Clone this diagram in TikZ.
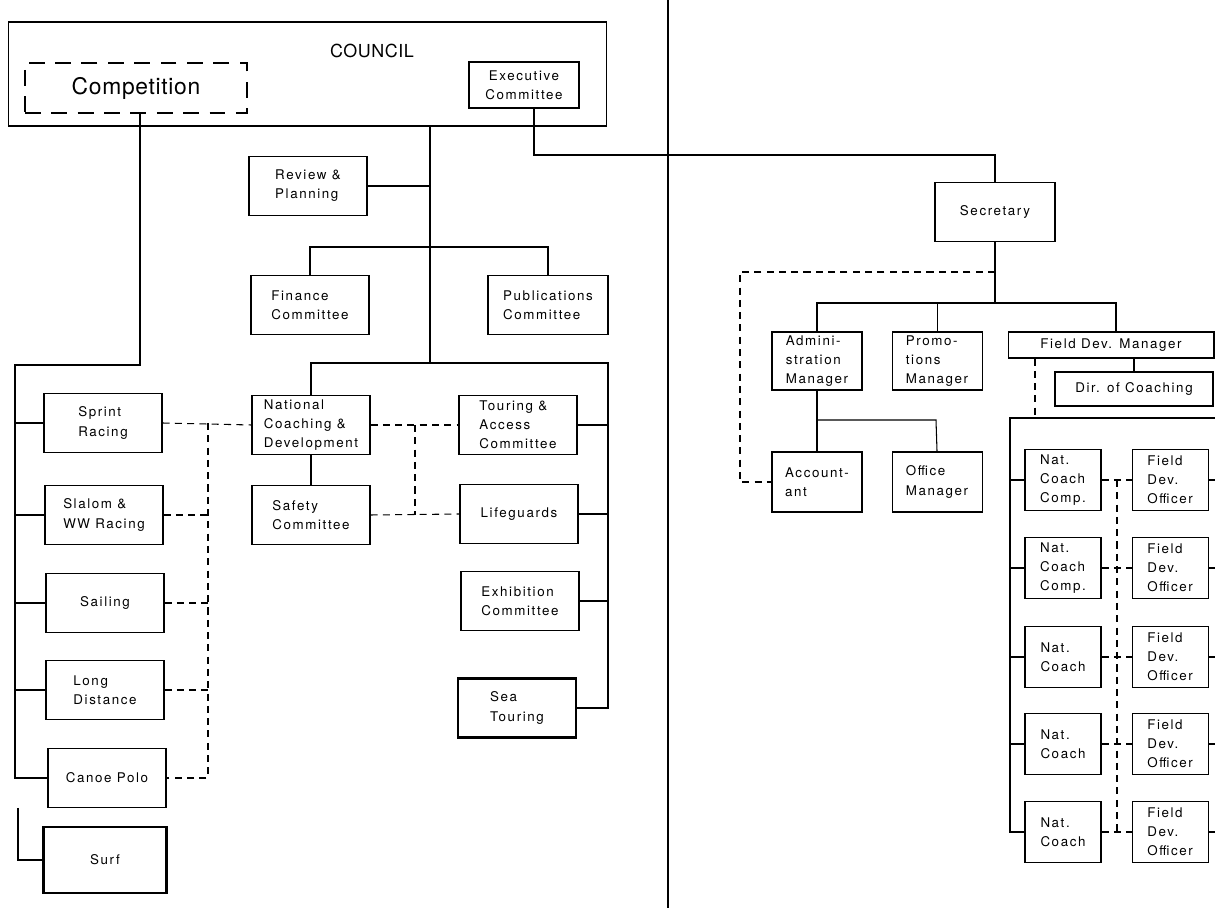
\documentclass[tikz,border=0pt]{standalone}
\usepackage{fontspec}
\newfontfamily\chartfont[LetterSpace=12]{TeX Gyre Heros}
\newfontfamily\titlefont[LetterSpace=3]{TeX Gyre Heros}
\usetikzlibrary{positioning}
\tikzset{
  unit/.style      ={draw,align=left,minimum width=2.36cm,minimum height=1.18cm,inner sep=2pt},
  heavyunit/.style ={unit,line width=1.3pt},
  staff/.style     ={unit,minimum width=1.8cm,minimum height=1.16cm},
  coachbox/.style  ={unit,minimum width=1.52cm,minimum height=1.22cm},
  link/.style      ={dash pattern=on 4pt off 3pt},
  heavy/.style     ={line width=1.3pt},
  divider/.style   ={line width=1.5pt}
}
\begin{document}
\begin{tikzpicture}[x=0.02cm,y=-0.02cm,line width=0.6pt,
    every node/.style={font=\chartfont\fontsize{7.6}{10.9}\selectfont}]
    \useasboundingbox (0,0) rectangle (1215,908);
    % council
    \node[unit,minimum width=11.98cm,minimum height=2.08cm] (council) at (307.5,74) {};
    \node[font=\titlefont\fontsize{10.2}{12}\selectfont] (councillabel) at (372,51) {COUNCIL};
    \node[unit,dash pattern=on 9pt off 6pt,minimum width=4.44cm,minimum height=1cm,
          font=\titlefont\fontsize{13}{15}\selectfont] (competition) at (136,88) {Competition};
    \node[unit,minimum width=2.2cm,minimum height=0.92cm,align=center] (exec) at (524,85) {Executive\\Committee};
    % competition
    \node[unit] (sprint)   at (103,423) {Sprint\\Racing};
    \node[unit] (slalom)   at (104,515) {Slalom \&\\WW Racing};
    \node[unit] (sailing)  at (105,603) {Sailing};
    \node[unit] (longdist) at (105,690) {Long\\Distance};
    \node[unit] (canoe)    at (107,778) {Canoe Polo};
    \node[heavyunit,minimum width=2.46cm,minimum height=1.32cm] (surf) at (105,860) {Surf};
    % committees
    \node[unit] (review)    at (308,186) {Review \&\\Planning};
    \node[unit] (finance)   at (310,305) {Finance\\Committee};
    \node[unit,minimum width=2.4cm] (publications) at (548,305) {Publications\\Committee};
    \node[unit] (natdev)    at (311,425) {National\\Coaching \&\\Development};
    \node[unit] (touring)   at (518,425) {Touring \&\\Access\\Committee};
    \node[unit] (safety)    at (311,515) {Safety\\Committee};
    \node[unit] (lifeguard) at (519,514) {Lifeguards};
    \node[unit] (exhib)     at (520,601) {Exhibition\\Committee};
    \node[heavyunit] (seatour) at (517,708) {Sea\\Touring};
    % staff
    \node[unit,minimum width=2.4cm] (secretary) at (995,212) {Secretary};
    \node[staff] (admin) at (817,361) {Admini-\\stration\\Manager};
    \node[staff,right=0.58cm of admin] (promo) {Promo-\\tions\\Manager};
    \node[staff,minimum height=1.2cm] (accountant) at (817,482) {Account-\\ant};
    \node[staff,minimum height=1.2cm,right=0.58cm of accountant] (office) {Office\\Manager};
    \node[unit,minimum width=4.12cm,minimum height=0.52cm,align=center] (fieldmgr) at (1111,345) {Field Dev. Manager};
    \node[unit,minimum width=3.16cm,minimum height=0.68cm] (dircoach) at (1134,389) {Dir. of Coaching};
    \foreach \i/\y/\t in {1/480/{Nat.\\Coach\\Comp.},2/568/{Nat.\\Coach\\Comp.},3/657/{Nat.\\Coach},
                          4/744/{Nat.\\Coach},5/832/{Nat.\\Coach}}{
      \node[coachbox] (coach\i) at (1063,\y) {\t};
      \node[coachbox,right=0.6cm of coach\i] (officer\i) {Field\\Dev.\\Officer};
    }
    % junctions
    \coordinate (compbend)  at (140,365);
    \coordinate (compfoot)  at (15,778);
    \coordinate (surftop)   at (18,808);
    \coordinate (compdash)  at (208,778);
    \coordinate (spine)     at (430,363);
    \coordinate (finbar)    at (430,247);
    \coordinate (tourbar)   at (608,363);
    \coordinate (tourfoot)  at (608,708);
    \coordinate (safedash)  at (415,515);
    \coordinate (secbar)    at (534,155);
    \coordinate (staffbar)  at (993,303);
    \coordinate (fdmtop)    at (1116,303);
    \coordinate (accdash)   at (740,272);
    \coordinate (officebar) at (936,420);
    \coordinate (fielddash) at (1035,418);
    \coordinate (fieldbar)  at (1010,418);
    \coordinate (fieldedge) at (1215,418);
    \coordinate (coachdash) at (1117,832);
    \coordinate (divtop)    at (668,0);
    \coordinate (divfoot)   at (668,908);
    % connectors
    \draw (competition.south -| compbend) -- (compbend) -| (compfoot) -- (canoe.west);
    \foreach \n in {sprint,slalom,sailing,longdist}
      \draw (\n.west) -- (\n.west -| compfoot);
    \draw[heavy] (surftop) |- (surf.west);
    \draw[link] (sprint.east) -- (natdev.west);
    \draw[link] (sprint.east -| compdash) -- (compdash) -- (canoe.east);
    \foreach \n in {slalom,sailing,longdist}
      \draw[link] (\n.east) -- (\n.east -| compdash);
    \draw (council.south -| spine) -- (spine);
    \draw (review.east) -- (review.east -| spine);
    \draw (finance.north) |- (publications.north |- finbar) -- (publications.north);
    \draw (natdev.north) |- (tourbar) -- (tourfoot);
    \foreach \n in {touring,lifeguard,exhib}
      \draw (\n.east) -- (\n.east -| tourbar);
    \draw[heavy] (seatour.east) -- (tourfoot) -- (tourfoot |- seatour.north);
    \draw (natdev) -- (safety);
    \draw[link] (natdev.east) -- (touring.west);
    \draw[link] (natdev.east -| safedash) -- (safedash);
    \draw[link] (safety.east) -- (lifeguard.west);
    \draw (exec.south -| secbar) -- (secbar) -| (secretary.north);
    \draw (secretary.south) -- (secretary.south |- staffbar);
    \draw (admin.north) |- (fdmtop) -- (fdmtop |- fieldmgr.north);
    \draw (promo.north) -- (promo.north |- fdmtop);
    \draw[link] (secretary.south |- accdash) -- (accdash) |- (accountant.west);
    \draw (admin.south) -- (accountant.north);
    \draw (admin.south |- officebar) -- (officebar) -- (office.north);
    \draw (fieldmgr.south -| dircoach) -- (dircoach.north);
    \draw[link] (fieldmgr.south -| fielddash) -- (fielddash);
    \draw (fieldedge) -- (fieldbar) |- (coach5.west);
    \foreach \i in {1,...,5}{
      \draw (coach\i.west) -- (coach\i.west -| fieldbar);
      \draw (officer\i.east) -- (officer\i.east -| fieldedge);
      \draw[link] (coach\i.east) -- (officer\i.west);
    }
    \draw[link] (coach1.east -| coachdash) -- (coachdash);
    \draw[divider] (divtop) -- (divfoot);
\end{tikzpicture}
\end{document}
